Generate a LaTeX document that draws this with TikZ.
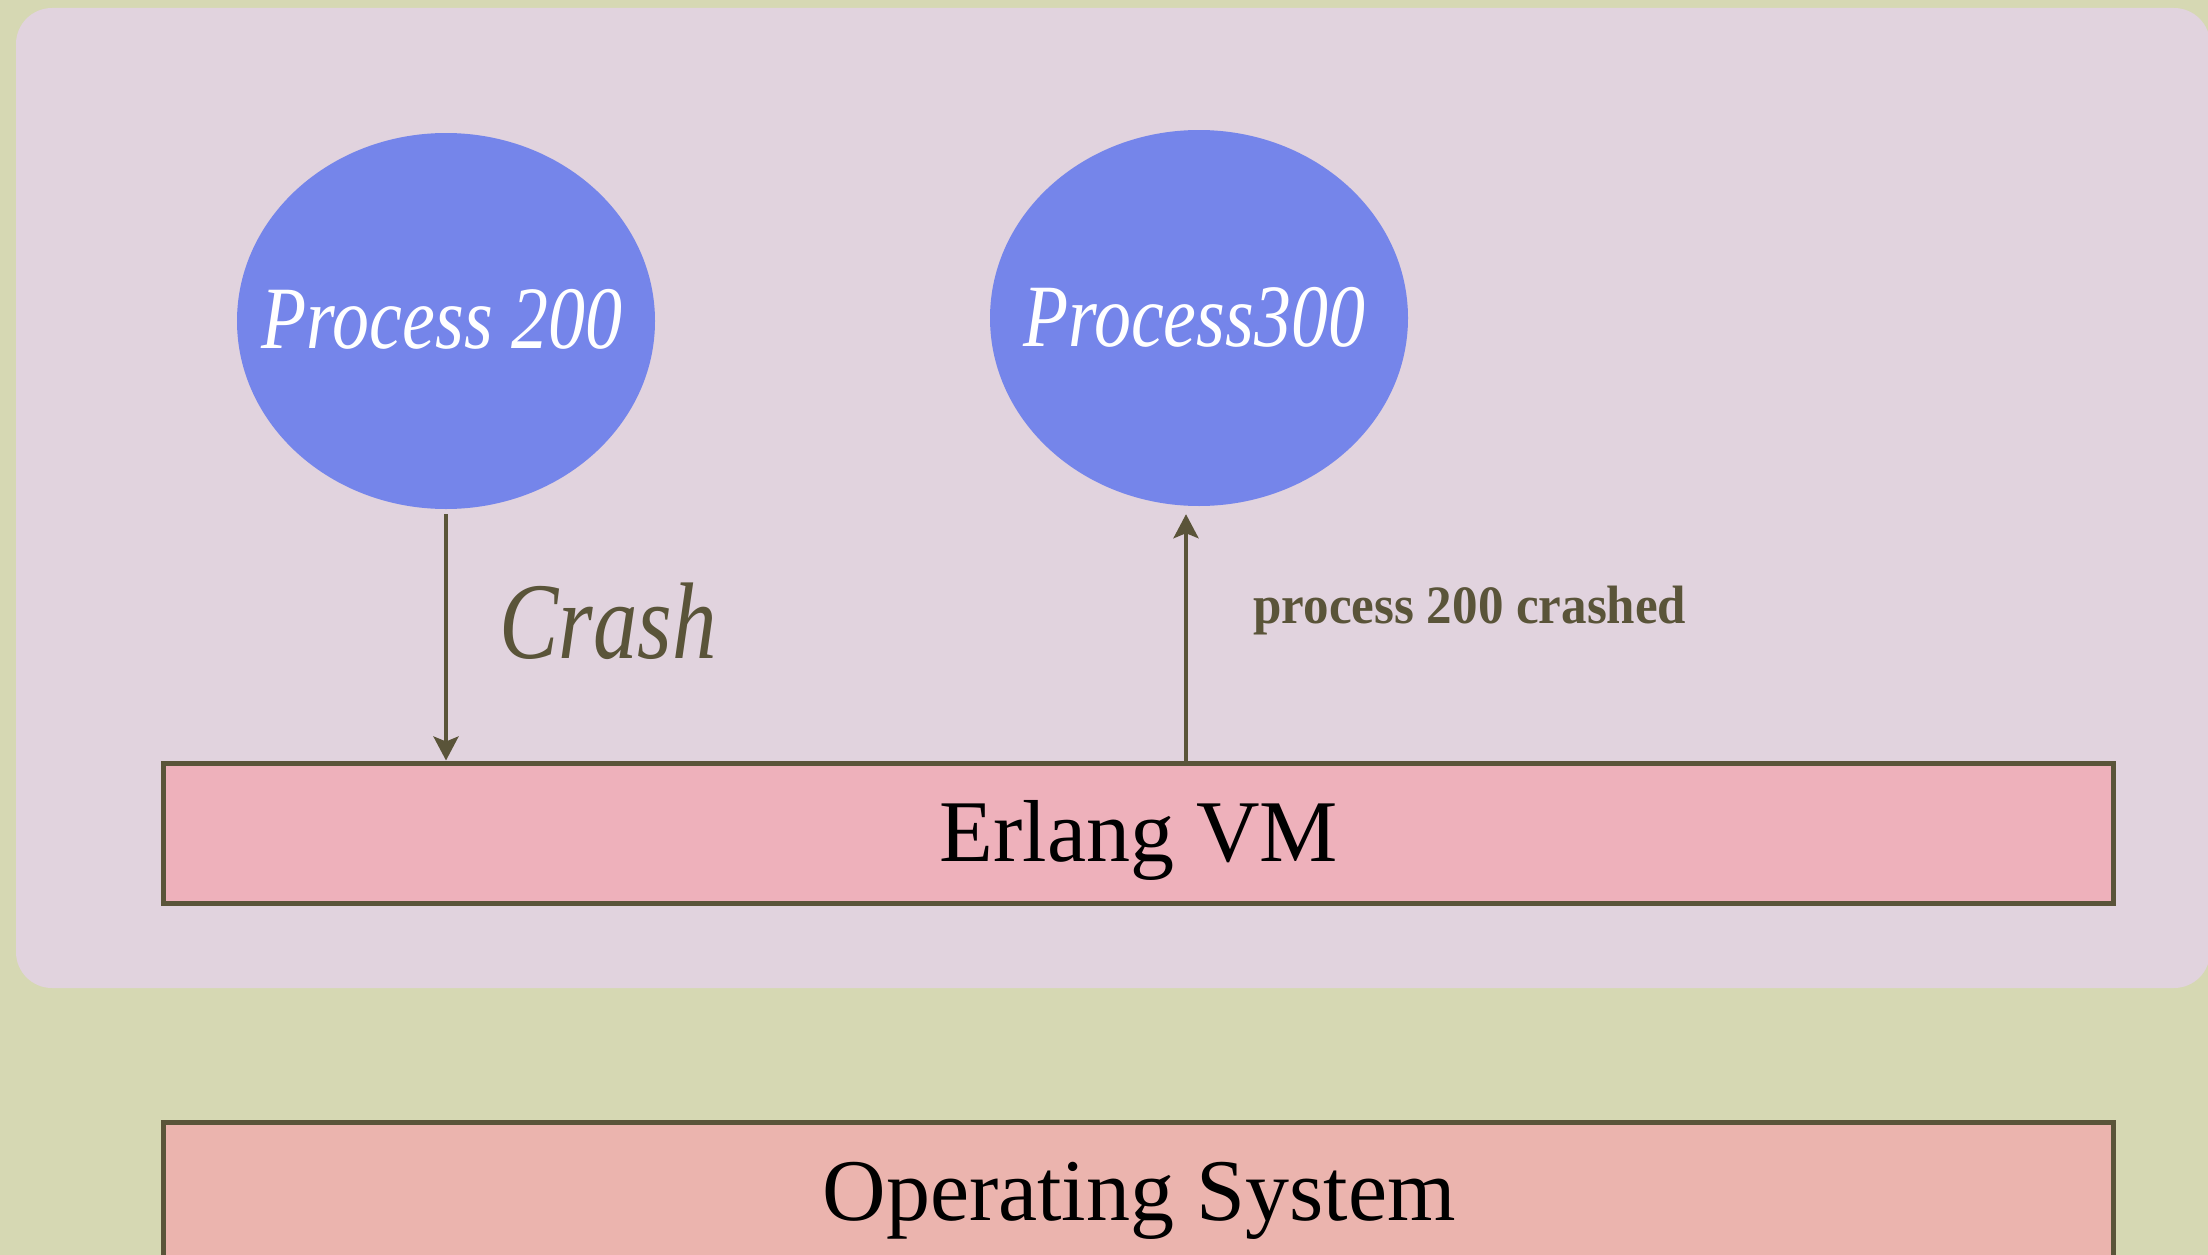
\documentclass[tikz,border=0pt]{standalone}
\usepackage{fontspec}
\setmainfont{Liberation Serif}
\usetikzlibrary{shapes.geometric,arrows.meta}
\definecolor{bgc}{HTML}{D6D8B3}
\definecolor{panelc}{HTML}{E1D3DE}
\definecolor{procc}{HTML}{7585EA}
\definecolor{edgec}{HTML}{5A5439}
\definecolor{vmc}{HTML}{EEB1BB}
\definecolor{osc}{HTML}{EBB4AE}
\newcommand{\fsz}[1]{\fontsize{#1}{#1}\selectfont}
\tikzset{
  proc/.style={ellipse, fill=procc, minimum width=418pt, minimum height=376pt, inner sep=0pt},
  ptext/.style={text=white, inner sep=0pt, anchor=base},
  layer/.style={rectangle, draw=edgec, line width=5pt, minimum width=1950pt, minimum height=140pt, inner sep=0pt},
  ltext/.style={text=black, inner sep=0pt, anchor=base},
  flow/.style={draw=edgec, line width=4pt, -{Stealth[length=24pt,width=25pt,inset=5pt]}},
  lbl/.style={text=edgec, inner sep=0pt, anchor=base}
}
\begin{document}
\begin{tikzpicture}[x=1pt,y=-1pt]
\useasboundingbox (0,0) rectangle (2208,1255);
\clip (0,0) rectangle (2208,1255);
\fill[bgc] (0,0) rectangle (2208,1255);
\fill[panelc, rounded corners=36pt] (16,8) rectangle (2210,988);

\node[proc] (p200) at (446,321) {};
\node[proc] (p300) at (1199,318) {};
\node[ptext] (t200) at (442,348) {\scalebox{0.83}[1]{\fsz{89}\itshape Process \oldstylenums{200}}};
\node[ptext] (t300) at (1194,346) {\scalebox{0.83}[1]{\fsz{89}\itshape Process\oldstylenums{300}}};

\node[layer, fill=vmc] (vm) at (1138,833) {};
\node[layer, fill=osc] (os) at (1138,1192) {};
\node[ltext] (tvm) at (1139,861) {\fsz{88}Erlang VM};
\node[ltext] (tos) at (1139,1220) {\scalebox{1.0}[1]{\fsz{88}Operating System}};

\draw[flow] ([yshift=-5pt]p200.south) -- (p200.south |- vm.north);
\coordinate (up) at ([xshift=-13pt,yshift=-8pt]p300.south);
\draw[flow] (up |- vm.north) -- (up);

\node[lbl] (crash) at (608,658) {\scalebox{0.815}[1]{\fsz{109}\itshape Crash}};
\node[lbl] (msg) at (1470,623) {\scalebox{0.945}[1]{\fsz{54}\bfseries process 200 crashed}};
\end{tikzpicture}
\end{document}
